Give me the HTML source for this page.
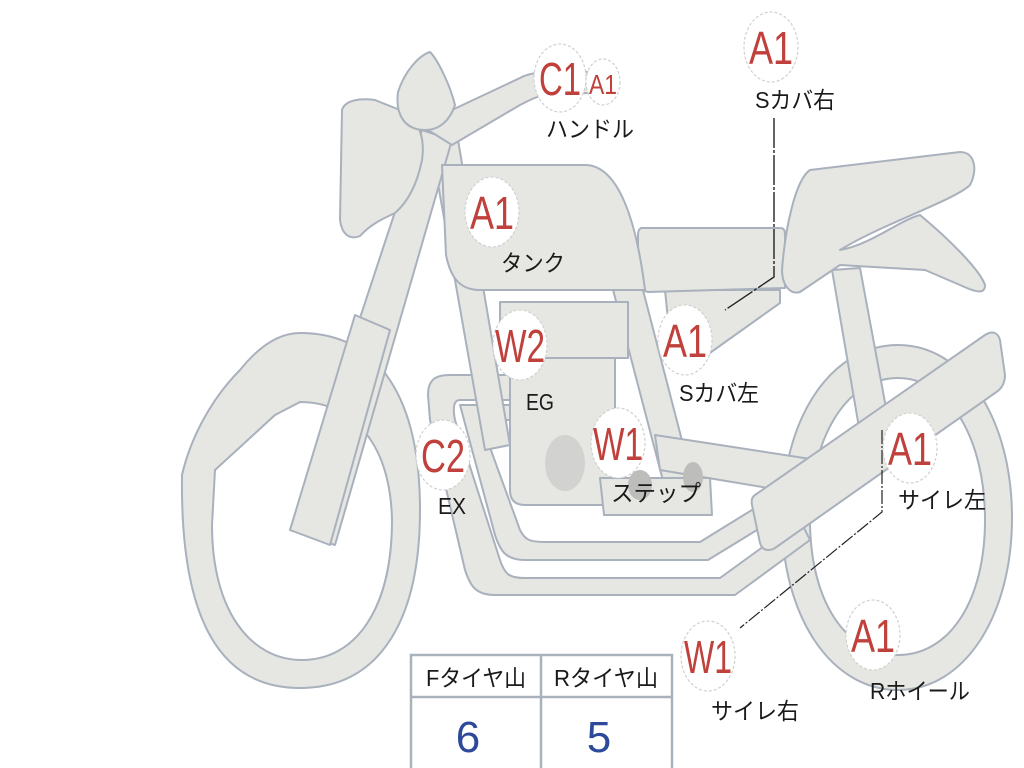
<!DOCTYPE html>
<html><head><meta charset="utf-8"><style>
html,body{margin:0;padding:0;background:#fff;width:1024px;height:768px;overflow:hidden}
svg{display:block}
.p{fill:#e6e6e2;stroke:#a9b1bd;stroke-width:2;stroke-linejoin:round}
.c{fill:#fff;stroke:#d0d0d0;stroke-width:1.2;stroke-dasharray:3 2}
.r{fill:#c0403c;font-family:"Liberation Sans","DejaVu Sans",sans-serif;text-anchor:middle}
.j{fill:#1a1a1a;font-family:"Liberation Sans","Noto Sans CJK JP",sans-serif;font-size:23px;text-anchor:middle}
.b{fill:#2d4a9a;font-family:"Liberation Sans",sans-serif;font-size:44px;text-anchor:middle}
</style></head><body>
<svg width="1024" height="768" viewBox="0 0 1024 768" xmlns="http://www.w3.org/2000/svg">
<!-- front wheel / fender -->
<path class="p" fill-rule="evenodd" d="M300,333 C380,333 420,400 420,510 C420,620 380,688 300,688 C220,688 180,620 182,475 C190,440 210,400 240,370 C260,345 280,333 300,333 Z M215,470 L275,415 L300,402 C350,402 390,440 392,520 C392,610 355,660 302,660 C250,660 212,610 212,525 Z"/>
<!-- rear wheel -->
<path class="p" fill-rule="evenodd" d="M898,345 C965,345 1012,420 1012,518 C1012,615 965,690 898,690 C830,690 782,615 782,518 C782,420 830,345 898,345 Z M898,378 C845,378 810,440 810,520 C810,600 845,655 898,655 C950,655 985,600 985,520 C985,440 950,378 898,378 Z"/>
<!-- rear shock -->
<path class="p" d="M832,270 L860,268 L892,440 L862,445 Z"/>
<!-- exhaust pipes -->
<path class="p" d="M428,395 C428,380 435,375 450,375 L510,375 L510,400 L460,400 C455,400 452,405 455,420 L500,560 C505,575 510,578 525,578 L720,578 L800,520 L810,540 L735,595 L495,595 C475,595 470,585 465,570 L430,420 Z"/>
<path class="p" d="M460,405 L515,405 L515,420 L480,420 L520,530 C525,540 530,542 545,542 L700,542 L760,505 L770,522 L708,560 L525,560 C505,560 500,550 495,535 Z"/>
<!-- frame tubes -->
<path class="p" d="M432,150 L458,140 L510,445 L485,450 Z"/>
<path class="p" d="M600,240 L630,240 L700,510 L672,515 Z"/>
<!-- swingarm -->
<path class="p" d="M655,435 L830,462 L840,500 L660,470 Z"/>
<!-- engine -->
<path class="p" d="M510,355 L615,355 L615,505 L525,505 C515,505 510,500 510,490 Z"/>
<path class="p" d="M500,302 L628,302 L628,358 L500,358 Z"/>
<ellipse cx="565" cy="463" rx="20" ry="28" fill="#d2d2d0"/>
<!-- step -->
<path class="p" d="M600,478 L710,478 L712,515 L604,515 Z"/>
<ellipse cx="640" cy="485" rx="12" ry="15" fill="#bdbdbb"/>
<ellipse cx="693" cy="477" rx="10" ry="15" fill="#bdbdbb"/>
<!-- fork -->
<path class="p" d="M422,130 L452,140 L335,545 L290,530 Z"/>
<path class="p" d="M355,315 L390,330 L330,545 L290,530 Z"/>
<!-- handlebar -->
<path class="p" d="M420,125 L520,78 C530,72 545,72 560,72 L605,72 L608,92 L545,95 C535,97 530,100 520,105 L452,145 Z"/>
<!-- headlight -->
<path class="p" d="M342,110 C345,100 360,98 375,100 L405,112 C420,122 425,140 422,160 C418,180 410,200 395,213 C380,220 370,225 360,236 C350,240 342,235 340,220 Z"/>
<path class="p" d="M398,92 C405,70 420,55 430,52 C438,60 450,85 455,105 C450,120 440,130 425,130 C405,130 395,115 398,92 Z"/>
<!-- side cover -->
<path class="p" d="M665,290 L780,290 L780,303 L700,360 L672,360 Z"/>
<path class="p" d="M642,228 L780,228 C785,228 785,232 785,236 L785,288 L648,292 C640,290 638,285 638,280 L638,235 C638,230 640,228 642,228 Z"/>
<!-- tank -->
<path class="p" d="M442,165 L585,165 C615,165 635,210 645,290 L480,290 C458,290 450,275 446,255 Z"/>
<!-- seat -->
<path class="p" d="M810,170 L960,152 C975,152 978,170 970,185 C955,200 880,225 840,250 C870,245 900,220 920,215 C950,240 980,270 985,285 C985,295 975,292 960,285 L925,270 L840,265 L800,292 C790,295 782,285 782,270 C785,230 795,180 810,170 Z"/>
<!-- muffler -->
<path class="p" d="M755,495 L985,335 C993,330 998,333 1000,340 L1005,375 C1005,385 1000,390 995,393 L775,548 C768,552 762,550 760,543 L752,505 C751,500 752,497 755,495 Z"/>
<!-- leaders -->
<polyline points="774,118 774,277 725,310" fill="none" stroke="#222" stroke-width="1.4" stroke-dasharray="30 2 3 2"/>
<polyline points="882,430 882,512 740,628" fill="none" stroke="#222" stroke-width="1.2" stroke-dasharray="14 2 2 2"/>
<!-- badges -->
<ellipse class="c" cx="771" cy="47" rx="27" ry="35"/><text class="r" x="771" y="64" font-size="46" textLength="44" lengthAdjust="spacingAndGlyphs">A1</text>
<ellipse class="c" cx="560" cy="78" rx="26" ry="34"/><text class="r" x="560" y="95" font-size="46" textLength="42" lengthAdjust="spacingAndGlyphs">C1</text>
<ellipse class="c" cx="603" cy="82" rx="17" ry="23"/><text class="r" x="603" y="94" font-size="28" textLength="28" lengthAdjust="spacingAndGlyphs">A1</text>
<ellipse class="c" cx="492" cy="212" rx="27" ry="35"/><text class="r" x="492" y="229" font-size="46" textLength="44" lengthAdjust="spacingAndGlyphs">A1</text>
<ellipse class="c" cx="520" cy="345" rx="27" ry="35"/><text class="r" x="520" y="362" font-size="46" textLength="50" lengthAdjust="spacingAndGlyphs">W2</text>
<ellipse class="c" cx="685" cy="340" rx="27" ry="35"/><text class="r" x="685" y="357" font-size="46" textLength="44" lengthAdjust="spacingAndGlyphs">A1</text>
<ellipse class="c" cx="443" cy="455" rx="27" ry="35"/><text class="r" x="443" y="472" font-size="46" textLength="44" lengthAdjust="spacingAndGlyphs">C2</text>
<ellipse class="c" cx="618" cy="443" rx="27" ry="35"/><text class="r" x="618" y="460" font-size="46" textLength="50" lengthAdjust="spacingAndGlyphs">W1</text>
<ellipse class="c" cx="910" cy="448" rx="27" ry="35"/><text class="r" x="910" y="465" font-size="46" textLength="44" lengthAdjust="spacingAndGlyphs">A1</text>
<ellipse class="c" cx="708" cy="656" rx="27" ry="35"/><text class="r" x="708" y="673" font-size="46" textLength="48" lengthAdjust="spacingAndGlyphs">W1</text>
<ellipse class="c" cx="873" cy="635" rx="27" ry="35"/><text class="r" x="873" y="652" font-size="46" textLength="44" lengthAdjust="spacingAndGlyphs">A1</text>
<!-- labels -->
<text class="j" x="795" y="108" textLength="80" lengthAdjust="spacingAndGlyphs">Sカバ右</text>
<text class="j" x="590" y="137" textLength="88" lengthAdjust="spacingAndGlyphs">ハンドル</text>
<text class="j" x="533" y="271" textLength="64" lengthAdjust="spacingAndGlyphs">タンク</text>
<text class="j" x="540" y="410" textLength="28" lengthAdjust="spacingAndGlyphs">EG</text>
<text class="j" x="719" y="401" textLength="80" lengthAdjust="spacingAndGlyphs">Sカバ左</text>
<text class="j" x="452" y="514" textLength="28" lengthAdjust="spacingAndGlyphs">EX</text>
<text class="j" x="656" y="501" textLength="90" lengthAdjust="spacingAndGlyphs">ステップ</text>
<text class="j" x="942" y="508" textLength="88" lengthAdjust="spacingAndGlyphs">サイレ左</text>
<text class="j" x="755" y="719" textLength="88" lengthAdjust="spacingAndGlyphs">サイレ右</text>
<text class="j" x="920" y="699" textLength="100" lengthAdjust="spacingAndGlyphs">Rホイール</text>
<!-- table -->
<rect x="411" y="655" width="261" height="120" fill="#fff" stroke="#a9b1bd" stroke-width="2.5"/>
<line x1="411" y1="697" x2="672" y2="697" stroke="#a9b1bd" stroke-width="2.5"/>
<line x1="541" y1="655" x2="541" y2="768" stroke="#a9b1bd" stroke-width="2.5"/>
<text class="j" x="476" y="686" textLength="100" lengthAdjust="spacingAndGlyphs">Fタイヤ山</text>
<text class="j" x="606" y="686" textLength="104" lengthAdjust="spacingAndGlyphs">Rタイヤ山</text>
<text class="b" x="468" y="752">6</text>
<text class="b" x="599" y="752">5</text>
</svg>
</body></html>
